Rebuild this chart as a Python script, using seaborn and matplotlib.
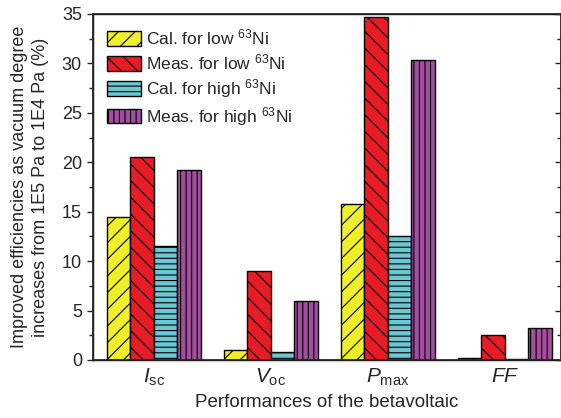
import matplotlib
matplotlib.use("Agg")
import matplotlib.pyplot as plt
import pandas as pd
import seaborn as sns
from matplotlib.ticker import MultipleLocator

# values
params = [r'$\mathit{I}_{\mathrm{sc}}$', r'$\mathit{V}_{\mathrm{oc}}$',
          r'$\mathit{P}_{\mathrm{max}}$', r'$\mathit{FF}$']
series = ['Cal. for low $^{63}$Ni', 'Meas. for low $^{63}$Ni',
          'Cal. for high $^{63}$Ni', 'Meas. for high $^{63}$Ni']
cal_low = [14.5, 1.0, 15.8, 0.2]
meas_low = [20.5, 9.0, 34.7, 2.5]
cal_high = [11.5, 0.8, 12.5, 0.1]
meas_high = [19.2, 6.0, 30.3, 3.2]

colors = ['#F0F02A', '#E81C24', '#6BC7D2', '#A24E9F']
hatches = ['//', '\\\\', '---', '|||']

df = pd.concat([pd.DataFrame({'param': params, 'value': v, 'series': s})
                for s, v in zip(series, [cal_low, meas_low, cal_high, meas_high])])

sns.set_theme(style='ticks')
plt.rcParams['font.family'] = ['Liberation Sans', 'DejaVu Sans']
plt.rcParams['mathtext.fontset'] = 'custom'
plt.rcParams['mathtext.rm'] = 'Liberation Sans'
plt.rcParams['mathtext.it'] = 'Liberation Sans:italic'
plt.rcParams['hatch.linewidth'] = 0.8

fig = plt.figure(figsize=(5.61, 4.18), dpi=100)
ax = fig.add_axes([0.1658, 0.1388, 0.8342, 0.8278])

sns.barplot(data=df, x='param', y='value', hue='series', palette=colors,
            saturation=1, width=0.8, edgecolor='black', linewidth=1,
            legend=False, ax=ax)

for cont, h in zip(ax.containers, hatches):
    for p in cont:
        p.set_hatch(h)

ax.set_xlim(-0.52, 3.48)
ax.set_ylim(0, 35)
ax.yaxis.set_major_locator(MultipleLocator(5))
ax.yaxis.set_minor_locator(MultipleLocator(2.5))
ax.tick_params(axis='y', which='major', direction='out', length=4.5, width=1, labelsize=13)
ax.tick_params(axis='y', which='minor', direction='out', length=3, width=1)
ax.tick_params(axis='x', length=0, labelsize=15, pad=5)
for sp in ax.spines.values():
    sp.set_linewidth(1.0)
    sp.set_color('black')

# inward ticks on the right side
ax2 = ax.twinx()
ax2.set_ylim(0, 35)
ax2.yaxis.set_major_locator(MultipleLocator(5))
ax2.yaxis.set_minor_locator(MultipleLocator(2.5))
ax2.tick_params(axis='y', which='major', direction='in', length=4.5, width=1, labelright=False)
ax2.tick_params(axis='y', which='minor', direction='in', length=3, width=1)

ax.set_xlabel('Performances of the betavoltaic', fontsize=13.5, labelpad=4)
ax.set_ylabel('Improved efficiencies as vacuum degree\nincreases from 1E5 Pa to 1E4 Pa (%)',
              fontsize=13, linespacing=1.3, labelpad=9)

ax.legend(handles=ax.containers, labels=series, loc='upper left', frameon=False,
          fontsize=12.5, handlelength=1.95, handleheight=0.92, labelspacing=0.27,
          handletextpad=0.3, borderaxespad=0.4)

fig.savefig('out.png', dpi=100)
